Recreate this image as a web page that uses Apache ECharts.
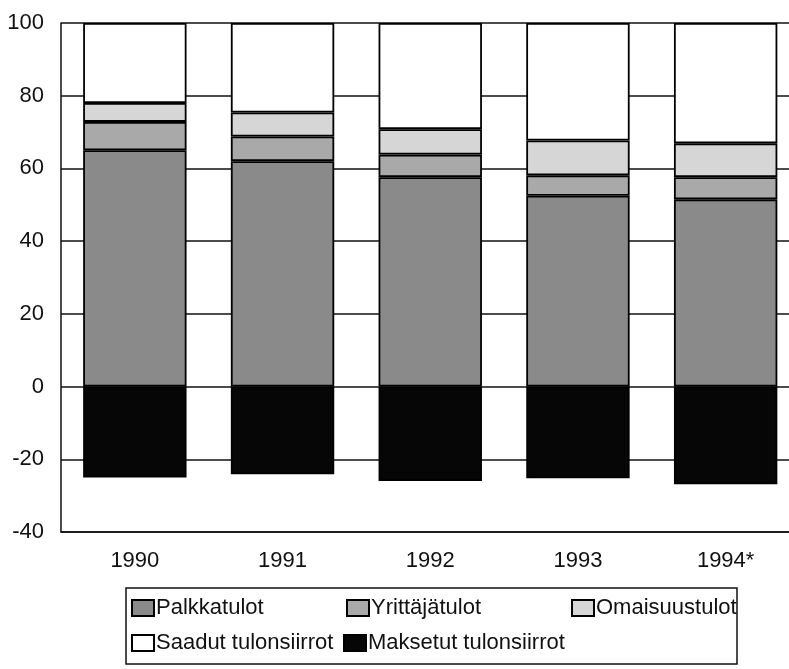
<!DOCTYPE html>
<html>
<head>
<meta charset="utf-8">
<script src="https://cdn.jsdelivr.net/npm/echarts@6/dist/echarts.min.js"></script>
<style>
  html, body { margin: 0; padding: 0; background: #fff; overflow: hidden; }
  #chart { width: 800px; height: 669px; }
</style>
</head>
<body>
<div id="chart"></div>
<script>
// data (percent)
const years = ['1990', '1991', '1992', '1993', '1994*']
const palkkatulot = [65.0, 62.0, 57.6, 52.5, 51.5]
const yrittajatulot = [7.8, 6.8, 6.2, 5.6, 6.1]
const omaisuustulot = [5.2, 6.6, 7.0, 9.6, 9.3]
const saadutTulonsiirrot = [22.0, 24.6, 29.2, 32.3, 33.1]
const maksetutTulonsiirrot = [-25.0, -24.1, -26.0, -25.2, -26.9]
const yTicks = [-40, 100, 20]

const font = "'Liberation Sans', Arial, sans-serif"

function bar (name, data, color) {
  return {
    name: name,
    type: 'bar',
    stack: 'all',
    data: data,
    barCategoryGap: '30%',
    itemStyle: { color: color, borderColor: '#000', borderWidth: 1.8 },
    emphasis: { disabled: true }
  }
}

function legendAt (name, left, top) {
  return {
    data: [name],
    left: left,
    top: top,
    icon: 'rect',
    itemWidth: 22,
    itemHeight: 16,
    itemGap: 4,
    padding: 0,
    selectedMode: false,
    textStyle: { fontFamily: font, fontSize: 22, color: '#111', padding: [0, 0, 0, -3] }
  }
}

let chart = echarts.init(document.getElementById('chart'))
let option = {
  animation: false,
  backgroundColor: '#fff',
  grid: { left: 61, top: 23, bottom: 137, right: 0.5 },
  xAxis: {
    type: 'category',
    data: years,
    axisLine: { onZero: false, lineStyle: { color: '#111', width: 1.5 } },
    axisTick: { show: false },
    axisLabel: { color: '#111', fontFamily: font, fontSize: 22, margin: 18 }
  },
  yAxis: {
    type: 'value',
    min: yTicks[0],
    max: yTicks[1],
    interval: yTicks[2],
    axisLine: { show: true, lineStyle: { color: '#111', width: 1.5 } },
    axisTick: { show: false },
    axisLabel: { color: '#111', fontFamily: font, fontSize: 22, margin: 17 },
    splitLine: { lineStyle: { color: '#111', width: 1.5 } }
  },
  legend: [
    legendAt('Palkkatulot', 131, 597),
    legendAt('Yrittäjätulot', 346, 597),
    legendAt('Omaisuustulot', 571, 597),
    legendAt('Saadut tulonsiirrot', 131, 632),
    legendAt('Maksetut tulonsiirrot', 343, 632)
  ],
  graphic: [{
    type: 'rect',
    shape: { x: 126, y: 588, width: 611, height: 76 },
    style: { fill: 'none', stroke: '#111', lineWidth: 1.5 },
    silent: true
  }],
  series: [
    bar('Palkkatulot', palkkatulot, '#8a8a8a'),
    bar('Yrittäjätulot', yrittajatulot, '#a9a9a9'),
    bar('Omaisuustulot', omaisuustulot, '#d6d6d6'),
    bar('Saadut tulonsiirrot', saadutTulonsiirrot, '#ffffff'),
    bar('Maksetut tulonsiirrot', maksetutTulonsiirrot, '#060606')
  ]
}
chart.setOption(option)
</script>
</body>
</html>
